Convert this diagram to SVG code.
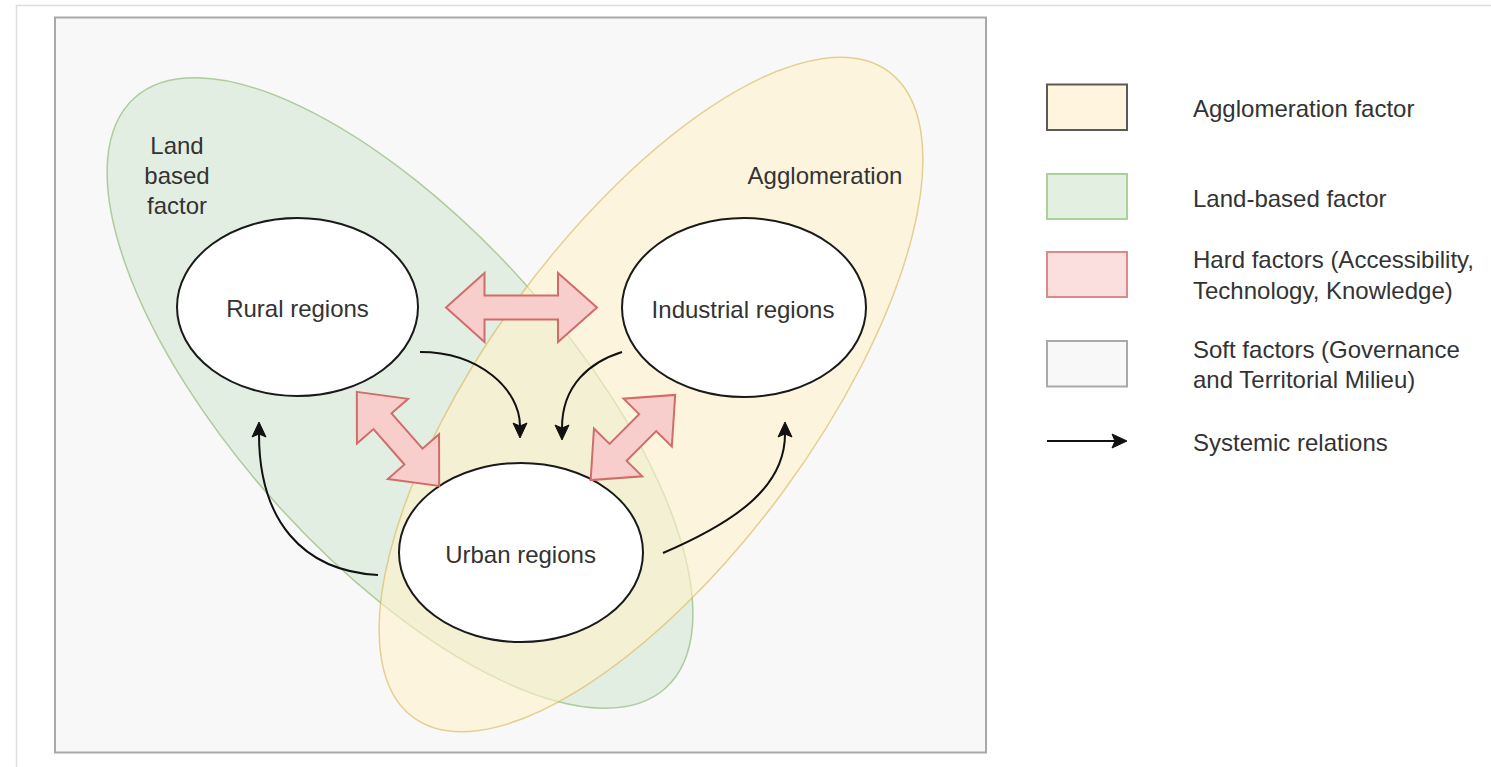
<svg xmlns="http://www.w3.org/2000/svg" width="1491" height="767" viewBox="0 0 1491 767">
<style>
  text { font-family: "Liberation Sans", Arial, Helvetica, sans-serif; font-size: 24px; fill: #333333; }
  .mid { text-anchor: middle; }
  .node { fill: #ffffff; stroke: #1a1a1a; stroke-width: 2; }
  .hard { fill: #f8cecc; stroke: #d06c6a; stroke-width: 2; stroke-linejoin: miter; }
  .rel { fill: none; stroke: #111111; stroke-width: 2; }
</style>
<defs>
  <marker id="ah" markerUnits="userSpaceOnUse" orient="auto" overflow="visible" markerWidth="1" markerHeight="1" refX="0" refY="0">
    <path d="M-3,-7 L12,0 L-3,7 L0,0 Z" fill="#111111" stroke="#111111" stroke-width="1"/>
  </marker>
  <path id="dbl125" d="M-62.5,0 L-23.5,-34 L-23.5,-12 L23.5,-12 L23.5,-34 L62.5,0 L23.5,34 L23.5,12 L-23.5,12 L-23.5,34 Z"/>
  <path id="dbl120" d="M-60,0 L-21,-34 L-21,-12 L21,-12 L21,-34 L60,0 L21,34 L21,12 L-21,12 L-21,34 Z"/>
</defs>

<rect width="1491" height="767" fill="#ffffff"/>
<path d="M16.5,767 V5.5 H1491" fill="none" stroke="#dddddd" stroke-width="1.5"/>

<g id="soft-factors">
  <rect x="55" y="17.5" width="931" height="735" fill="#f8f8f8" stroke="#a8a8a8" stroke-width="2"/>
</g>

<g id="land-based-factor">
  <ellipse cx="400" cy="393" rx="397" ry="166" transform="rotate(48 400 393)" fill="#d5e8d4" fill-opacity="0.6" stroke="#82b366" stroke-opacity="0.6" stroke-width="1.5"/>
  <text class="mid" x="177" y="154">Land</text>
  <text class="mid" x="177" y="184">based</text>
  <text class="mid" x="177" y="214">factor</text>
</g>

<g id="agglomeration">
  <ellipse cx="651" cy="394.5" rx="401" ry="164" transform="rotate(-53.65 651 394.5)" fill="#fff2cc" fill-opacity="0.6" stroke="#d6b656" stroke-opacity="0.6" stroke-width="1.5"/>
  <text class="mid" x="825" y="184">Agglomeration</text>
</g>

<g id="rural-regions">
  <ellipse class="node" cx="297.5" cy="307" rx="120.5" ry="89"/>
  <text class="mid" x="297.5" y="317">Rural regions</text>
</g>

<g id="industrial-regions">
  <ellipse class="node" cx="744" cy="307.5" rx="122" ry="89.5"/>
  <text class="mid" x="743" y="318">Industrial regions</text>
</g>

<g id="urban-regions">
  <ellipse class="node" cx="521" cy="552.5" rx="122" ry="89.5"/>
  <text class="mid" x="520.5" y="563">Urban regions</text>
</g>

<g id="connectors">
  <path class="hard" d="M446,307.5 L484.5,273 L484.5,295.5 L558,295.5 L558,273 L597,307.5 L558,342 L558,319.5 L484.5,319.5 L484.5,342 Z"/>
  <use href="#dbl125" class="hard" transform="translate(398 438.9) rotate(48.8)"/>
  <use href="#dbl120" class="hard" transform="translate(632.9 437.5) rotate(-45.2)"/>
  <path class="rel" d="M420,352 C480,352 520,390 520,426" marker-end="url(#ah)"/>
  <path class="rel" d="M622,352 C590,362 562,385 562,428" marker-end="url(#ah)"/>
  <path class="rel" d="M378,575 C302,571 259,520 259,434" marker-end="url(#ah)"/>
  <path class="rel" d="M663,553 C740,520 785,485 785,434" marker-end="url(#ah)"/>
</g>

<g id="legend">
  <g id="legend-agglomeration">
    <rect x="1047" y="84.5" width="80" height="45.5" fill="#fff4de" stroke="#5a5a5a" stroke-width="2"/>
    <text x="1193" y="117">Agglomeration factor</text>
  </g>
  <g id="legend-land">
    <rect x="1047" y="174" width="80" height="45" fill="#e3efe1" stroke="#a9d19a" stroke-width="2"/>
    <text x="1193" y="207">Land-based factor</text>
  </g>
  <g id="legend-hard">
    <rect x="1047" y="252" width="80" height="45" fill="#fbdfdf" stroke="#dc8a88" stroke-width="2"/>
    <text x="1193" y="268">Hard factors (Accessibility,</text>
    <text x="1193" y="299">Technology, Knowledge)</text>
  </g>
  <g id="legend-soft">
    <rect x="1047" y="341" width="80" height="45.5" fill="#f8f8f8" stroke="#a9a9a9" stroke-width="2"/>
    <text x="1193" y="358">Soft factors (Governance</text>
    <text x="1193" y="388">and Territorial Milieu)</text>
  </g>
  <g id="legend-systemic">
    <path class="rel" d="M1047,441 H1115" marker-end="url(#ah)"/>
    <text x="1193" y="451">Systemic relations</text>
  </g>
</g>
</svg>
